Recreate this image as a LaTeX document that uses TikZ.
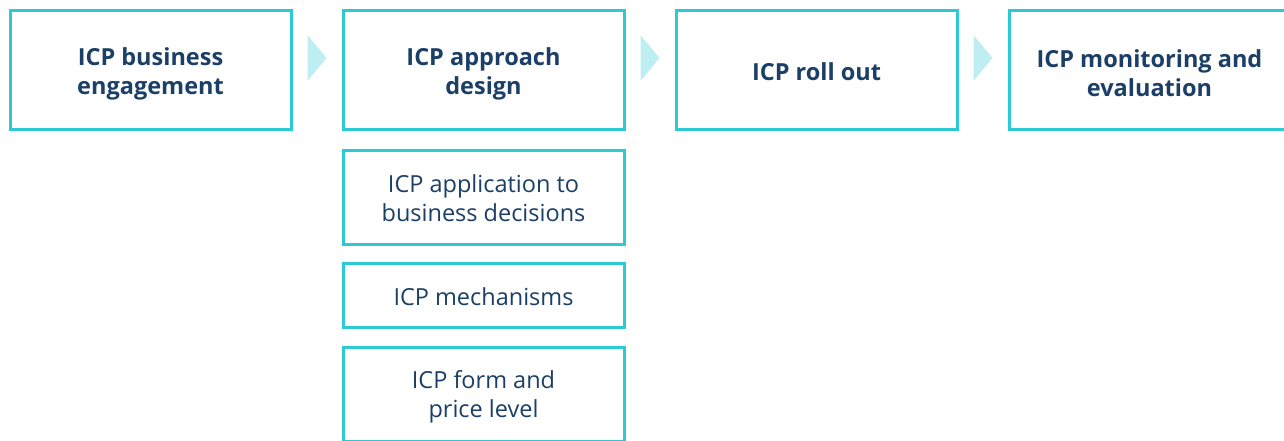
\documentclass[tikz,border=0pt]{standalone}
\usepackage{fontspec}
\setmainfont{Open Sans}
\usetikzlibrary{positioning, calc}

\definecolor{icpcyan}{HTML}{2DCAD5}
\definecolor{icplight}{HTML}{BFEEF2}
\definecolor{icpnavy}{HTML}{1B3F66}

\begin{document}
\begin{tikzpicture}[x=1pt, y=1pt,
    node distance=49pt,
    pad/.store in=\padht,
    phase/.style={rectangle, draw=icpcyan, line width=3pt, minimum width=281pt, minimum height=119pt, align=center, text=icpnavy, font=\fontsize{23.5}{29}\selectfont\bfseries, pad=54pt, execute at begin node={\rule{0pt}{\padht}}},
    sub/.style={phase, minimum height=94pt, font=\fontsize{23.5}{29}\selectfont, pad=48pt},
    chev/.style={fill=icplight}]

    \clip (0,0) rectangle (1284,440);

    % main phases
    \node[phase] (engage) at (150.5,370) {ICP business\\engagement};
    \node[phase, right=of engage] (design) {ICP approach\\design};
    \node[phase, right=of design, pad=21pt] (rollout) {ICP roll out};
    \node[phase, right=of rollout] (monitor) {ICP monitoring and\\evaluation};

    % design steps
    \node[sub, below=18pt of design] (apply) {ICP application to\\business decisions};
    \node[sub, below=16pt of apply, minimum height=64pt, pad=21pt] (mech) {ICP mechanisms};
    \node[sub, below=17pt of mech, pad=51pt] (form) {ICP form and\\price level};

    % chevrons between the phases
    \fill[chev] ($(engage.east)!.5!(design.west)+(-9.5,35)$) -- ++(19,-23) -- ++(-19,-23) -- cycle;
    \fill[chev] ($(design.east)!.5!(rollout.west)+(-9.5,35)$) -- ++(19,-23) -- ++(-19,-23) -- cycle;
    \fill[chev] ($(rollout.east)!.5!(monitor.west)+(-9.5,35)$) -- ++(19,-23) -- ++(-19,-23) -- cycle;
\end{tikzpicture}
\end{document}
